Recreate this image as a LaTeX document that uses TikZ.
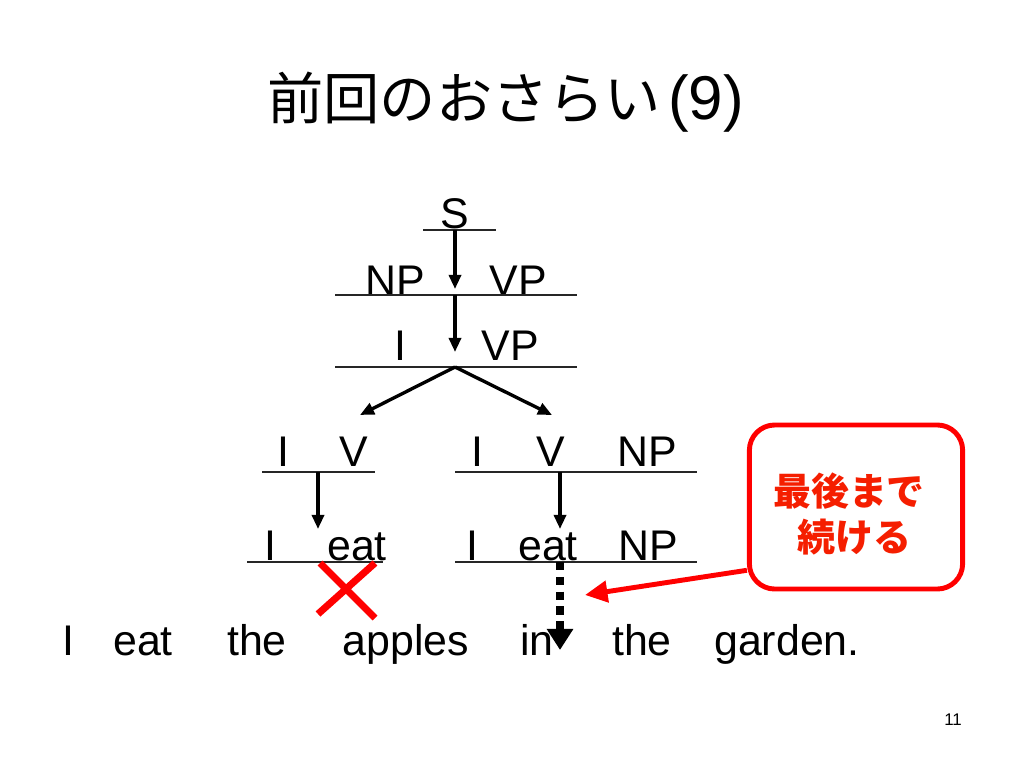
\documentclass[tikz,border=0pt]{standalone}
\usepackage{fontspec}
\setmainfont{Liberation Sans}
\newfontfamily\jp{Noto Sans CJK JP}
\usetikzlibrary{arrows.meta}
\definecolor{notered}{RGB}{255,0,0}
\definecolor{notetext}{RGB}{245,30,0}

\begin{document}
\begin{tikzpicture}[x=0.025cm,y=-0.025cm,
    word/.style={anchor=base,inner sep=0pt,font=\fontsize{30.5}{36}\selectfont},
    rule/.style={line width=0.8pt,black!85},
    derive/.style={line width=2.4pt,-{Triangle[length=10pt,width=8.5pt]}},
    skiparrow/.style={line width=5pt,dash pattern=on 6pt off 4.5pt,-{Triangle[length=15pt,width=18pt]}},
    notebox/.style={rectangle,rounded corners=18pt,draw=notered,line width=3.5pt,fill=white,minimum width=5.33cm,minimum height=4.1cm},
    pointer/.style={draw=notered,line width=3.5pt,-{Triangle[length=16pt,width=15pt]},color=notered},
    cross/.style={draw=notered,line width=5pt}]
  \path[use as bounding box] (0,0) rectangle (1024,768);
  \path
  (267,120) node[anchor=base west,inner sep=0pt,font=\jp\fontsize{40}{48}\selectfont] (title) {前回のおさらい\hspace{5pt}{\rmfamily\fontsize{44}{48}\selectfont(9)}}

  (455,228) node[word] (s) {S}
  (395,295) node[word] (np1) {NP}
  (518,295) node[word] (vp1) {VP}
  (400,360) node[word] (i2) {I}
  (510,360) node[word] (vp2) {VP}

  % left branch
  (283,466) node[word] (li3) {I}
  (354,466) node[word] (lv3) {V}
  (270,560) node[word] (li4) {I}
  (357,560) node[word] (leat4) {eat}

  % right branch
  (477,466) node[word] (ri3) {I}
  (551,466) node[word] (rv3) {V}
  (647,466) node[word] (rnp3) {NP}
  (472,560) node[word] (ri4) {I}
  (548,560) node[word] (reat4) {eat}
  (648,560) node[word] (rnp4) {NP}

  % the sentence
  (68,655)  node[word] (w1) {I}
  (143,655) node[word] (w2) {eat}
  (257,655) node[word] (w3) {the}
  (406,655) node[word] (w4) {apples}
  (537,655) node[word] (w5) {in}
  (642,655) node[word] (w6) {the}
  (787,655) node[word] (w7) {garden.}

  (953,725) node[anchor=base,inner sep=0pt,font=\fontsize{12}{14}\selectfont] (page) {11}
  ;

  \coordinate (r0) at (455,230);
  \coordinate (r1) at (455,295);
  \coordinate (r2) at (455,367);
  \coordinate (lr3) at (318,472);
  \coordinate (rr3) at (560,472);
  \coordinate (rr4) at (560,562);
  \coordinate (tip) at (585,595);

  \draw[rule] (423,230) -- (496,230);
  \draw[rule] (335,295) -- (577,295);
  \draw[rule] (335,367) -- (577,367);
  \draw[rule] (262,472) -- (375,472);
  \draw[rule] (455,472) -- (697,472);
  \draw[rule] (247,562) -- (383,562);
  \draw[rule] (455,562) -- (697,562);

  \draw[derive] (r0) -- (455,289);
  \draw[derive] (r1) -- (455,352);
  \draw[derive] (r2) -- (360,415);
  \draw[derive] (r2) -- (552,415);
  \draw[derive] (lr3) -- (318,529);
  \draw[derive] (rr3) -- (560,529);
  \draw[skiparrow] (rr4) -- (560,650);

  \draw[cross] (320,563) -- (375,618);
  \draw[cross] (375,563) -- (318,614);

  \node[notebox] (note) at (856,507) {};
  \node[font=\jp\bfseries\fontsize{27}{33}\selectfont,text=notetext,align=left,inner sep=0pt] (notetxt) at (849,514) {最後まで\\\hspace{0.65em}続ける};
  \draw[pointer] ([yshift=-45pt]note.west) -- (tip);
\end{tikzpicture}
\end{document}
